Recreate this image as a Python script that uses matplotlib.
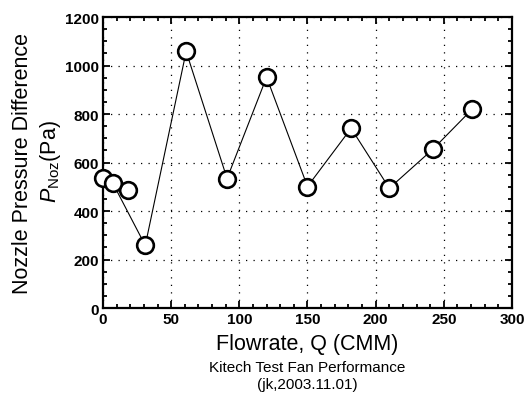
import matplotlib
matplotlib.use("Agg")
import matplotlib.pyplot as plt
from matplotlib.ticker import MultipleLocator

# measured points (flowrate in CMM, nozzle pressure difference in Pa)
flowrate = [0, 18, 7, 31, 61, 91, 120, 150, 182, 210, 242, 271]
p_noz = [535, 486, 517, 258, 1058, 534, 952, 501, 741, 494, 655, 821]

x_ticks = [0, 50, 100, 150, 200, 250, 300]
y_ticks = [0, 200, 400, 600, 800, 1000, 1200]

plt.rcParams['font.family'] = ['Liberation Sans', 'DejaVu Sans']
plt.rcParams['mathtext.fontset'] = 'custom'
plt.rcParams['mathtext.rm'] = 'Liberation Sans'
plt.rcParams['mathtext.it'] = 'Liberation Sans:italic'


def main():
    fig = plt.figure(figsize=(5.32, 4.14), dpi=100)
    ax = fig.add_axes([0.1936, 0.2536, 0.7688, 0.7029])

    ax.plot(flowrate, p_noz, color='black', lw=0.8, marker='o',
            markersize=12, markerfacecolor='white', markeredgecolor='black',
            markeredgewidth=1.9, clip_on=False, zorder=3)

    ax.set_xlim(x_ticks[0], x_ticks[-1])
    ax.set_ylim(y_ticks[0], y_ticks[-1])
    ax.set_xticks(x_ticks)
    ax.set_yticks(y_ticks)
    ax.xaxis.set_minor_locator(MultipleLocator(10))
    ax.yaxis.set_minor_locator(MultipleLocator(50))

    ax.tick_params(which='both', direction='in', top=True, right=True,
                   width=1.3)
    ax.tick_params(which='major', length=5, labelsize=11, pad=3)
    ax.tick_params(which='minor', length=3)
    for lab in ax.get_xticklabels() + ax.get_yticklabels():
        lab.set_fontweight('bold')

    for s in ax.spines.values():
        s.set_linewidth(1.6)

    ax.grid(True, which='major', color='black', lw=0.9,
            linestyle=(0, (1, 5)))

    ax.set_xlabel('Flowrate, Q (CMM)', fontsize=15.5, labelpad=5)

    fig.text(0.043, 0.605, 'Nozzle Pressure Difference', rotation=90,
             fontsize=15.5, ha='center', va='center')
    fig.text(0.094, 0.61, r'$\mathit{P}_{\mathrm{Noz}}$(Pa)', rotation=90,
             fontsize=15.5, ha='center', va='center')

    fig.text(0.577, 0.111, 'Kitech Test Fan Performance', fontsize=11,
             ha='center', va='center')
    fig.text(0.577, 0.07, '(jk,2003.11.01)', fontsize=11,
             ha='center', va='center')

    fig.savefig('out.png', dpi=100)


if __name__ == '__main__':
    main()
